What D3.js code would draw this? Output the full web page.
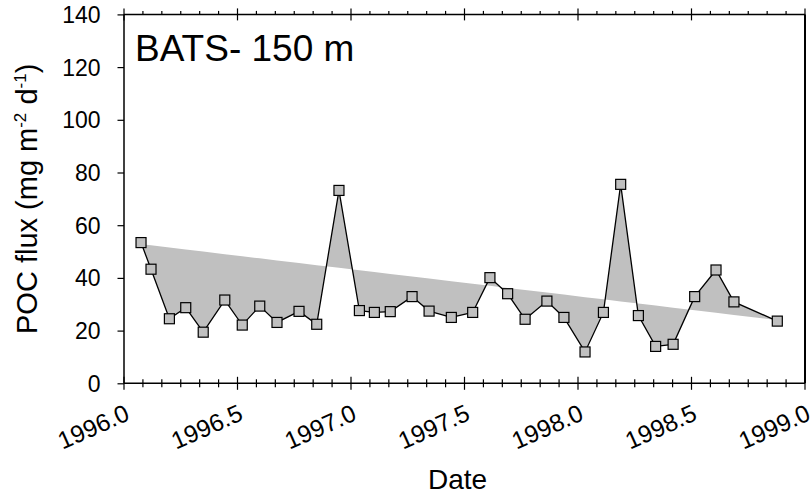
<!DOCTYPE html>
<html lang="en">
<head>
    <meta charset="UTF-8">
    <title>BATS 150 m</title>
    <script src="https://d3js.org/d3.v7.min.js"></script>
    <style>
        body { margin: 0; background: #fff; }
        text { font-family: "Liberation Sans", Arial, sans-serif; fill: #000; }
    </style>
</head>
<body>

<div id="chart"></div>

<script>
    // data
    const dates = [1996.075, 1996.119, 1996.200, 1996.272, 1996.349, 1996.444, 1996.521, 1996.598,
        1996.674, 1996.771, 1996.849, 1996.947, 1997.037, 1997.103, 1997.173, 1997.269, 1997.344,
        1997.442, 1997.536, 1997.612, 1997.690, 1997.767, 1997.863, 1997.938, 1998.031, 1998.112,
        1998.188, 1998.266, 1998.342, 1998.419, 1998.514, 1998.608, 1998.687, 1998.878]
    const flux = [53.4, 43.3, 24.5, 28.7, 19.4, 31.6, 22.1, 29.3,
        23.1, 27.3, 22.4, 73.2, 27.6, 26.9, 27.2, 32.9, 27.4,
        25.0, 26.9, 40.1, 34.0, 24.3, 31.2, 25.0, 11.9, 26.9,
        75.5, 25.7, 14.0, 14.8, 32.9, 43.0, 30.9, 23.6]
    // linear trend, value at first and last sample
    const trendEnds = [52.8, 24.0]
    const xTicks = [1996.0, 1996.5, 1997.0, 1997.5, 1998.0, 1998.5, 1999.0]
    const yTicks = [0, 20, 40, 60, 80, 100, 120, 140]

    const W = 811, H = 501
    const LEFT = 124, RIGHT = 805, TOP = 14.4, BOTTOM = 383.3

    const svg = d3.select("#chart").append("svg")
        .attr("width", W).attr("height", H)

    const x = d3.scaleLinear().domain([1996, 1999]).range([LEFT, RIGHT])
    const y = d3.scaleLinear().domain([0, 140]).range([BOTTOM, TOP])

    const trend = d3.scaleLinear()
        .domain([dates[0], dates[dates.length - 1]])
        .range(trendEnds)

    const pts = dates.map((d, i) => ({ t: d, v: flux[i] }))

    // shaded area between series and trend
    const area = d3.area()
        .x(d => x(d.t))
        .y0(d => y(trend(d.t)))
        .y1(d => y(d.v))
    svg.append("path")
        .datum(pts)
        .attr("d", area)
        .attr("fill", "#c0c0c0")
        .attr("stroke", "none")

    // frame
    const minor = d3.range(0, 37).map(i => 1996 + i / 12)

    svg.append("line").attr("x1", LEFT).attr("x2", RIGHT).attr("y1", BOTTOM).attr("y2", BOTTOM)
        .attr("stroke", "#000").attr("stroke-width", 1.5)
    svg.append("line").attr("x1", LEFT).attr("x2", RIGHT).attr("y1", TOP).attr("y2", TOP)
        .attr("stroke", "#000").attr("stroke-width", 1.5)
    svg.append("line").attr("x1", LEFT).attr("x2", LEFT).attr("y1", TOP).attr("y2", BOTTOM)
        .attr("stroke", "#000").attr("stroke-width", 1.5)
    svg.append("line").attr("x1", RIGHT).attr("x2", RIGHT).attr("y1", TOP).attr("y2", BOTTOM)
        .attr("stroke", "#000").attr("stroke-width", 2)

    const isMajor = d => xTicks.some(t => Math.abs(t - d) < 1e-6)

    // bottom ticks cross the axis
    svg.append("g").selectAll("line").data(minor).join("line")
        .attr("x1", d => x(d)).attr("x2", d => x(d))
        .attr("y1", d => BOTTOM - (isMajor(d) ? 6.5 : 4))
        .attr("y2", d => BOTTOM + (isMajor(d) ? 6.5 : 4))
        .attr("stroke", "#000").attr("stroke-width", 1.2)
    // top ticks
    svg.append("g").selectAll("line").data(minor).join("line")
        .attr("x1", d => x(d)).attr("x2", d => x(d))
        .attr("y1", d => TOP - (isMajor(d) ? 6 : 3.5))
        .attr("y2", d => TOP + (isMajor(d) ? 6 : 0))
        .attr("stroke", "#000").attr("stroke-width", 1.2)

    const yAxisCall = d3.axisLeft(y).tickValues(yTicks).tickSize(6.5).tickPadding(17)
    const gL = svg.append("g").attr("transform", `translate(${LEFT}, 0)`).call(yAxisCall)
    gL.select(".domain").remove()
    gL.selectAll("line").attr("stroke-width", 1.2)
    gL.selectAll("text")
        .attr("font-size", "23px")
        .attr("font-family", "Liberation Sans, Arial, sans-serif")
        .attr("dy", "0.35em")

    // rotated x labels
    svg.append("g").selectAll("text").data(xTicks).join("text")
        .attr("text-anchor", "end")
        .attr("font-size", "24.5px")
        .attr("transform", d => `translate(${x(d) + 7}, ${BOTTOM + 36}) rotate(-24)`)
        .text(d => d.toFixed(1))

    // series line + markers
    const line = d3.line().x(d => x(d.t)).y(d => y(d.v))
    svg.append("path")
        .datum(pts)
        .attr("d", line)
        .attr("fill", "none")
        .attr("stroke", "#000")
        .attr("stroke-width", 1.3)

    svg.append("g").selectAll("rect").data(pts).join("rect")
        .attr("x", d => x(d.t) - 5)
        .attr("y", d => y(d.v) - 5)
        .attr("width", 10).attr("height", 10)
        .attr("fill", "#c0c0c0")
        .attr("stroke", "#000")
        .attr("stroke-width", 1.2)

    // labels
    svg.append("text")
        .attr("x", 135).attr("y", 61)
        .attr("font-size", "37px")
        .text("BATS- 150 m")

    svg.append("text")
        .attr("x", (LEFT + RIGHT) / 2 - 7).attr("y", 489)
        .attr("text-anchor", "middle")
        .attr("font-size", "28px")
        .text("Date")

    const yl = svg.append("text")
        .attr("transform", `translate(37, ${(TOP + BOTTOM) / 2}) rotate(-90)`)
        .attr("text-anchor", "middle")
        .attr("font-size", "29px")
    yl.append("tspan").text("POC flux (mg m")
    yl.append("tspan").attr("font-size", "17px").attr("dy", "-11").text("-2")
    yl.append("tspan").attr("dy", "11").text(" d")
    yl.append("tspan").attr("font-size", "17px").attr("dy", "-11").text("-1")
    yl.append("tspan").attr("dy", "11").text(")")
</script>
</body>
</html>
